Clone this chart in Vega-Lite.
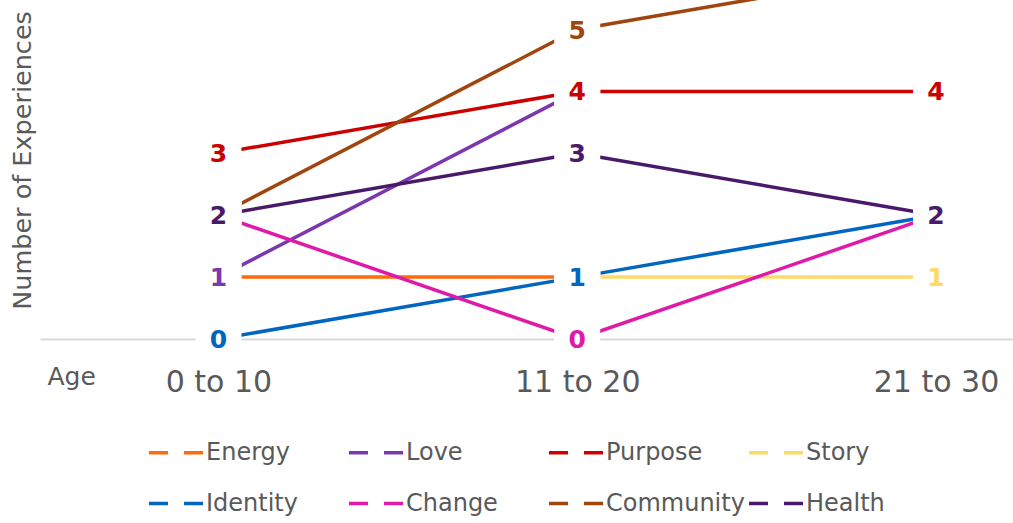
{
  "$schema": "https://vega.github.io/schema/vega-lite/v6.json",
  "width": 973,
  "height": 339,
  "autosize": {"type": "none"},
  "padding": {"left": 40, "top": 0, "right": 0, "bottom": 184},
  "background": "white",
  "config": {"view": {"stroke": null}, "font": "DejaVu Sans"},
  "data": {
    "values": [
      {"theme": "Energy", "age": "0 to 10", "experiences": 1},
      {"theme": "Energy", "age": "11 to 20", "experiences": 1},
      {"theme": "Love", "age": "0 to 10", "experiences": 1},
      {"theme": "Love", "age": "11 to 20", "experiences": 4},
      {"theme": "Purpose", "age": "0 to 10", "experiences": 3},
      {"theme": "Purpose", "age": "11 to 20", "experiences": 4},
      {"theme": "Purpose", "age": "21 to 30", "experiences": 4},
      {"theme": "Story", "age": "11 to 20", "experiences": 1},
      {"theme": "Story", "age": "21 to 30", "experiences": 1},
      {"theme": "Identity", "age": "0 to 10", "experiences": 0},
      {"theme": "Identity", "age": "11 to 20", "experiences": 1},
      {"theme": "Identity", "age": "21 to 30", "experiences": 2},
      {"theme": "Change", "age": "0 to 10", "experiences": 2},
      {"theme": "Change", "age": "11 to 20", "experiences": 0},
      {"theme": "Change", "age": "21 to 30", "experiences": 2},
      {"theme": "Community", "age": "0 to 10", "experiences": 2},
      {"theme": "Community", "age": "11 to 20", "experiences": 5},
      {"theme": "Community", "age": "21 to 30", "experiences": 6},
      {"theme": "Health", "age": "0 to 10", "experiences": 2},
      {"theme": "Health", "age": "11 to 20", "experiences": 3},
      {"theme": "Health", "age": "21 to 30", "experiences": 2}
    ]
  },
  "encoding": {
    "x": {
      "field": "age",
      "type": "ordinal",
      "sort": null,
      "scale": {"type": "point", "domain": ["0 to 10", "11 to 20", "21 to 30"], "padding": 0.356, "align": 0.6986},
      "axis": {
        "title": "Age",
        "titleX": 7,
        "titleY": 45,
        "titleAlign": "left",
        "titleBaseline": "alphabetic",
        "titleAngle": 0,
        "titleFontSize": 25,
        "titleFontWeight": "normal",
        "titleColor": "#595959",
        "labelFontSize": 30,
        "labelColor": "#595959",
        "labelAngle": 0,
        "labelBaseline": "alphabetic",
        "labelPadding": 52,
        "labelFlush": false,
        "labelOverlap": false,
        "ticks": false,
        "tickSize": 0,
        "grid": false,
        "domainColor": "#D9D9D9",
        "domainWidth": 2
      }
    },
    "y": {
      "field": "experiences",
      "type": "quantitative",
      "scale": {"domain": [0, 5.477], "nice": false, "zero": false},
      "axis": {
        "title": "Number of Experiences",
        "titleX": -18,
        "titleY": 160,
        "titleAngle": -90,
        "titleAlign": "center",
        "titleBaseline": "middle",
        "titleFontSize": 25.5,
        "titleFontWeight": "normal",
        "titleColor": "#595959",
        "labels": false,
        "ticks": false,
        "domain": false,
        "grid": false
      }
    },
    "color": {
      "field": "theme",
      "type": "nominal",
      "scale": {
        "domain": ["Energy", "Love", "Purpose", "Story", "Identity", "Change", "Community", "Health"],
        "range": ["#FF6A0A", "#7B38AE", "#CC0000", "#FFD966", "#0066BF", "#E01AA8", "#A0450E", "#4A1A6A"]
      },
      "legend": {
        "orient": "none",
        "legendX": 107,
        "legendY": 423,
        "direction": "horizontal",
        "columns": 4,
        "title": null,
        "symbolType": "stroke",
        "symbolSize": 3025,
        "symbolStrokeWidth": 3.5,
        "symbolDash": [19, 16],
        "symbolOpacity": 1,
        "labelFontSize": 24,
        "labelColor": "#595959",
        "labelOffset": 0,
        "labelLimit": 300,
        "columnPadding": -3,
        "rowPadding": 9,
        "gridAlign": "all",
        "padding": 0
      }
    }
  },
  "layer": [
    {"mark": {"type": "line", "strokeWidth": 3.5, "clip": true}},
    {
      "transform": [{"filter": "datum.experiences <= 5.4"}],
      "mark": {"type": "point", "shape": "M-1.15,-1H1.15V1H-1.15Z", "filled": true, "opacity": 1, "strokeWidth": 0, "size": 1600},
      "encoding": {"color": {"value": "white"}}
    },
    {
      "transform": [
        {"filter": "datum.experiences <= 5.4"},
        {"window": [{"op": "row_number", "as": "rn"}, {"op": "count", "as": "n"}], "groupby": ["age", "experiences"], "frame": [null, null]},
        {"filter": "datum.rn == datum.n"}
      ],
      "mark": {"type": "text", "fontWeight": "bold", "fontSize": 25, "align": "center", "baseline": "middle", "dy": 1},
      "encoding": {"text": {"field": "experiences", "type": "quantitative"}}
    }
  ]
}
